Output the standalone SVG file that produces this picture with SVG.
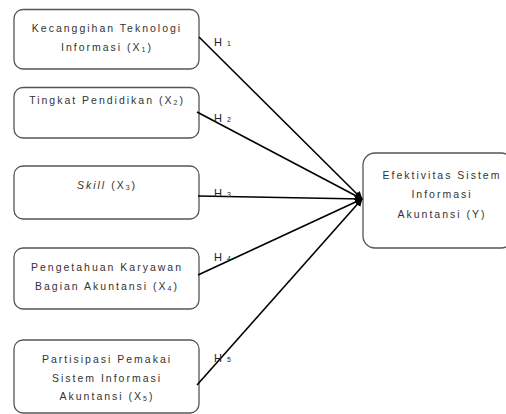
<svg xmlns="http://www.w3.org/2000/svg" width="506" height="414" viewBox="0 0 506 414">
<defs>
<style>
.box{fill:#fff;stroke:#555;stroke-width:1.3}
.t{font-family:"Liberation Sans",Arial,sans-serif;font-size:10.5px;fill:#333;letter-spacing:2px;text-anchor:middle}
.h{font-family:"Liberation Sans",Arial,sans-serif;font-size:11px;fill:#222;letter-spacing:1px}
.s{font-size:7px}
.c{stroke:#000;stroke-width:1.6;fill:none;marker-end:url(#arr)}
</style>
<marker id="arr" viewBox="0 0 10 10" refX="9" refY="5" markerWidth="5" markerHeight="5" orient="auto" markerUnits="strokeWidth">
<path d="M0,0 L10,5 L0,10 z" fill="#000"/>
</marker>
</defs>
<rect width="506" height="414" fill="#fff"/>
<g id="x1">
<rect class="box" x="14" y="9.5" width="185" height="59.5" rx="9"/>
<text class="t" x="107" y="32">Kecanggihan Teknologi</text>
<text class="t" x="107" y="51">Informasi (X<tspan class="s" dy="1">1</tspan><tspan dy="-1">)</tspan></text>
</g>
<g id="x2">
<rect class="box" x="14" y="87.5" width="185" height="50.5" rx="9"/>
<text class="t" x="107" y="104">Tingkat Pendidikan (X<tspan class="s" dy="1">2</tspan><tspan dy="-1">)</tspan></text>
</g>
<g id="x3">
<rect class="box" x="14" y="166" width="185" height="53" rx="9"/>
<text class="t" x="107" y="189"><tspan font-style="italic">Skill</tspan>  (X<tspan class="s" dy="1">3</tspan><tspan dy="-1">)</tspan></text>
</g>
<g id="x4">
<rect class="box" x="14" y="248" width="185" height="61" rx="9"/>
<text class="t" x="107" y="271">Pengetahuan Karyawan</text>
<text class="t" x="107" y="290">Bagian Akuntansi (X<tspan class="s" dy="1">4</tspan><tspan dy="-1">)</tspan></text>
</g>
<g id="x5">
<rect class="box" x="14" y="340" width="185" height="73" rx="9"/>
<text class="t" x="107" y="363">Partisipasi Pemakai</text>
<text class="t" x="107" y="382">Sistem Informasi</text>
<text class="t" x="107" y="400">Akuntansi (X<tspan class="s" dy="1">5</tspan><tspan dy="-1">)</tspan></text>
</g>
<g id="y">
<rect class="box" x="363" y="153" width="150" height="95" rx="12"/>
<text class="t" x="442" y="179">Efektivitas Sistem</text>
<text class="t" x="442" y="198">Informasi</text>
<text class="t" x="442" y="218">Akuntansi (Y)</text>
</g>
<g id="connectors">
<line class="c" x1="199" y1="37" x2="362" y2="199"/>
<line class="c" x1="197" y1="112" x2="362" y2="199" stroke-width="2"/>
<line class="c" x1="198" y1="196" x2="362" y2="199" stroke-width="2"/>
<line class="c" x1="198" y1="275" x2="362" y2="199"/>
<line class="c" x1="197" y1="385" x2="362" y2="199"/>
<text class="h" x="214" y="46">H <tspan class="s">1</tspan></text>
<text class="h" x="214" y="122">H <tspan class="s">2</tspan></text>
<text class="h" x="214" y="197">H <tspan class="s">3</tspan></text>
<text class="h" x="214" y="261">H <tspan class="s">4</tspan></text>
<text class="h" x="214" y="362">H <tspan class="s">5</tspan></text>
</g>
</svg>
